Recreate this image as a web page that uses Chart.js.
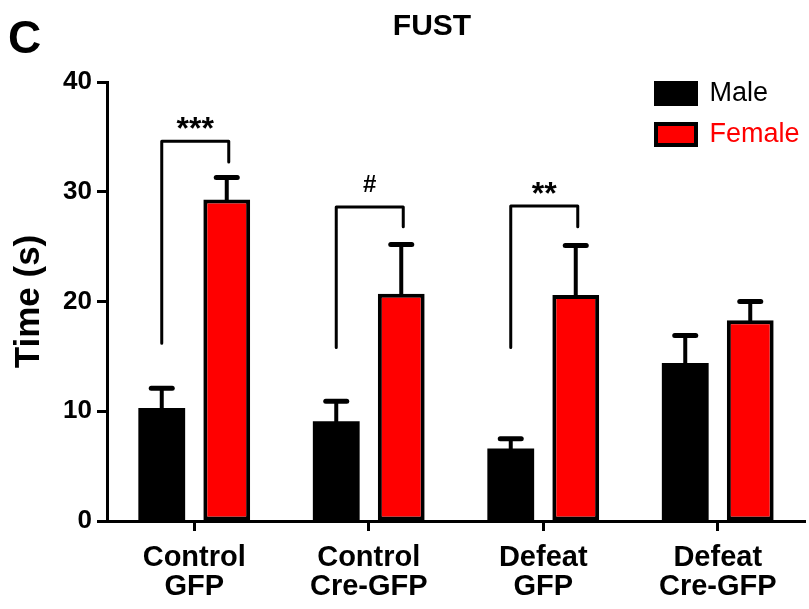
<!DOCTYPE html>
<html><head><meta charset="utf-8">
<script src="https://cdn.jsdelivr.net/npm/chart.js@4.4.0/dist/chart.umd.min.js"></script>
<style>html,body{margin:0;padding:0;background:#fff;}#wrap{width:809px;height:609px;position:relative;}</style>
</head><body><div id="wrap"><canvas id="c" width="809" height="609"></canvas></div>
<script>
// ---- data ----
const categories = [["Control","GFP"],["Control","Cre-GFP"],["Defeat","GFP"],["Defeat","Cre-GFP"]];
const maleMeans   = [10.3, 9.1, 6.6, 14.4];
const maleSEM     = [1.8, 1.8, 0.9, 2.5];
const femaleMeans = [29.3, 20.7, 20.6, 18.3];
const femaleSEM   = [2.0, 4.5, 4.5, 1.7];
const yTicks = [0, 10, 20, 30, 40];
const sigGroups    = [0, 1, 2];
const sigLabels    = ["***", "#", "**"];
const sigTop       = [34.6, 28.6, 28.7];
const sigMaleEnd   = [16.2, 15.8, 15.8];
const sigFemaleEnd = [32.7, 26.8, 26.8];
const semBySet = [maleSEM, femaleSEM];

const FONT = '"Liberation Sans", Arial, Helvetica, sans-serif';
Chart.defaults.font.family = FONT;
Chart.defaults.color = '#000';

const errorBars = {
  id: 'errorBars',
  afterDatasetsDraw(chart) {
    const ctx = chart.ctx, ys = chart.scales.y;
    ctx.save();
    ctx.strokeStyle = '#000';
    chart.data.datasets.forEach((ds, di) => {
      const meta = chart.getDatasetMeta(di);
      meta.data.forEach((bar, i) => {
        const v = ds.data[i], e = semBySet[di][i];
        const yTop = ys.getPixelForValue(v + e);
        const yBar = ys.getPixelForValue(v);
        ctx.lineCap = 'butt';
        ctx.lineWidth = 4;
        ctx.beginPath(); ctx.moveTo(bar.x, yBar + 1); ctx.lineTo(bar.x, yTop); ctx.stroke();
        ctx.lineCap = 'round';
        ctx.lineWidth = 5;
        ctx.beginPath(); ctx.moveTo(bar.x - 10.5, yTop); ctx.lineTo(bar.x + 10.5, yTop); ctx.stroke();
      });
    });
    ctx.restore();
  }
};

const sigBrackets = {
  id: 'sigBrackets',
  afterDatasetsDraw(chart) {
    const ctx = chart.ctx, ys = chart.scales.y;
    const m0 = chart.getDatasetMeta(0), m1 = chart.getDatasetMeta(1);
    ctx.save();
    ctx.strokeStyle = '#000'; ctx.fillStyle = '#000';
    ctx.lineWidth = 3; ctx.lineCap = 'round'; ctx.lineJoin = 'round';
    sigGroups.forEach((g, i) => {
      const xl = m0.data[g].x, xr = m1.data[g].x + 2;
      const yt = ys.getPixelForValue(sigTop[i]);
      ctx.beginPath();
      ctx.moveTo(xl, ys.getPixelForValue(sigMaleEnd[i]));
      ctx.lineTo(xl, yt);
      ctx.lineTo(xr, yt);
      ctx.lineTo(xr, ys.getPixelForValue(sigFemaleEnd[i]));
      ctx.stroke();
      const txt = sigLabels[i];
      ctx.textAlign = 'center'; ctx.textBaseline = 'alphabetic';
      if (txt.indexOf('*') >= 0) {
        ctx.font = 'bold 32px ' + FONT;
        ctx.fillText(txt, (xl + xr) / 2, yt - 2);
      } else {
        ctx.font = 'bold 24px ' + FONT;
        ctx.fillText(txt, (xl + xr) / 2, yt - 15);
      }
    });
    ctx.restore();
  }
};

const panelText = {
  id: 'panelText',
  afterDraw(chart) {
    const ctx = chart.ctx;
    ctx.save();
    ctx.fillStyle = '#000'; ctx.textBaseline = 'alphabetic';
    ctx.textAlign = 'left';
    ctx.font = 'bold 46px ' + FONT;
    ctx.fillText('C', 8, 53);
    ctx.textAlign = 'center';
    ctx.font = 'bold 30px ' + FONT;
    ctx.fillText('FUST', 432, 35);
    ctx.restore();
  }
};

const legendPlacer = {
  id: 'legendPlacer',
  afterLayout(chart) {
    const lg = chart.legend;
    if (lg) { lg.left = 642; lg.top = 66; }
  }
};

new Chart(document.getElementById('c'), {
  type: 'bar',
  data: {
    labels: categories,
    datasets: [
      { label: 'Male', data: maleMeans, backgroundColor: '#000000', borderColor: '#000000', borderWidth: 0, borderSkipped: false },
      { label: 'Female', data: femaleMeans, backgroundColor: '#ff0000', borderColor: '#000000', borderWidth: 4, borderSkipped: false }
    ]
  },
  options: {
    responsive: false,
    devicePixelRatio: 1,
    animation: false,
    categoryPercentage: 0.745,
    barPercentage: 0.72,
    layout: { padding: { top: 82, right: 4, bottom: 0, left: 0 } },
    plugins: {
      title: { display: false },
      tooltip: { enabled: false },
      legend: {
        position: 'chartArea',
        align: 'start',
        labels: {
          boxWidth: 40, boxHeight: 21, padding: 14,
          font: { size: 27, weight: 'normal' },
          generateLabels(chart) {
            const items = Chart.defaults.plugins.legend.labels.generateLabels(chart);
            items.forEach((it, i) => {
              it.fontColor = chart.data.datasets[i].backgroundColor;
              it.strokeStyle = '#000000';
              it.lineWidth = 4;
            });
            return items;
          }
        }
      }
    },
    scales: {
      x: {
        offset: true,
        afterFit(s) { s.height = 88; },
        ticks: { font: { size: 29, weight: 'bold', lineHeight: 1.0 }, color: '#000', padding: 12, maxRotation: 0, autoSkip: false },
        grid: { display: true, offset: false, drawOnChartArea: false, drawTicks: true, tickLength: 10, tickWidth: 3, tickColor: '#000' },
        border: { display: true, color: '#000', width: 3 }
      },
      y: {
        min: 0, max: 40,
        afterFit(s) { s.width = 107; },
        afterBuildTicks(s) { s.ticks = yTicks.map(v => ({ value: v })); },
        ticks: { font: { size: 26, weight: 'bold' }, color: '#000', padding: 5 },
        grid: { display: true, drawOnChartArea: false, drawTicks: true, tickLength: 10, tickWidth: 3, tickColor: '#000' },
        border: { display: true, color: '#000', width: 3 },
        title: { display: true, text: 'Time (s)', font: { size: 35, weight: 'bold' }, color: '#000', padding: { top: 8, bottom: 0 } }
      }
    }
  },
  plugins: [errorBars, sigBrackets, panelText, legendPlacer]
});
</script>
</body></html>
